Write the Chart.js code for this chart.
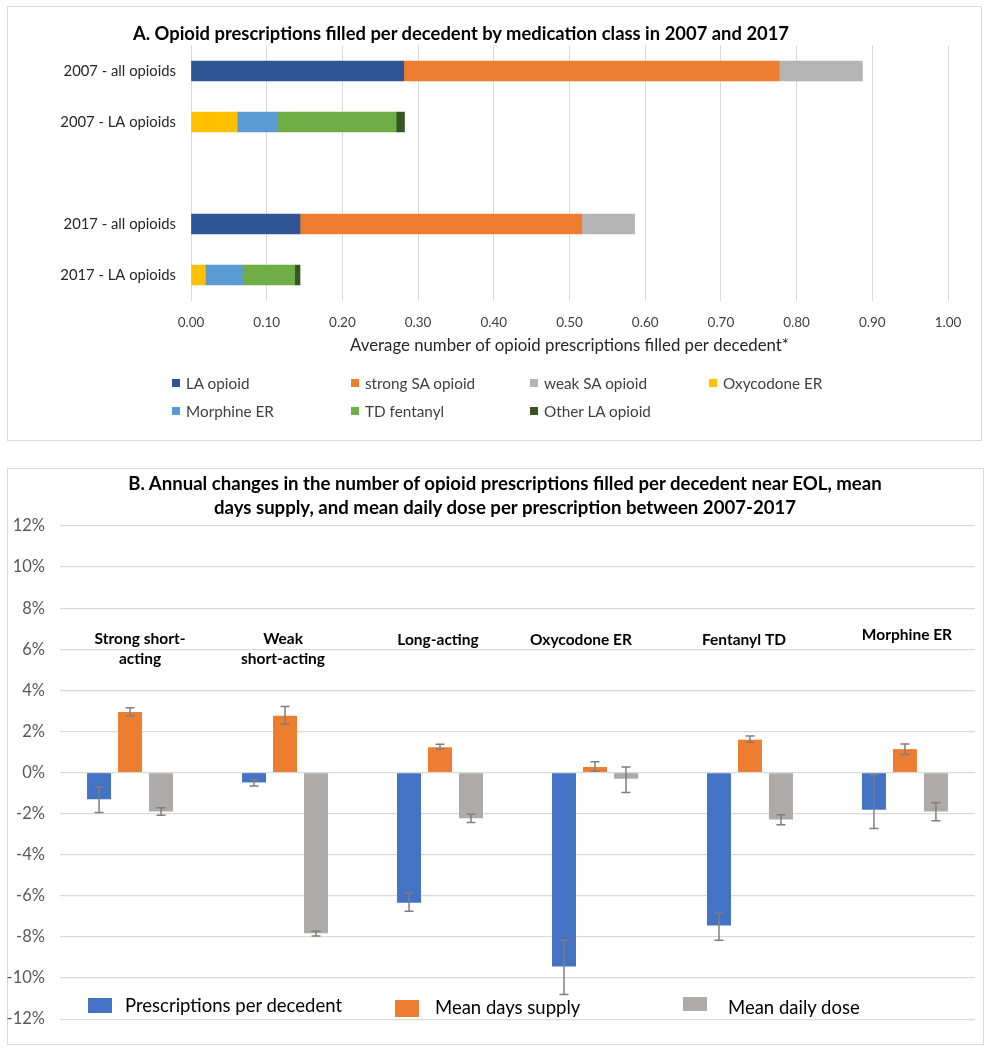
<!DOCTYPE html>
<html><head><meta charset="utf-8">
<script src="https://cdn.jsdelivr.net/npm/chart.js@4.4.1/dist/chart.umd.min.js"></script>
<style>
body{margin:0;background:#fff;width:990px;height:1050px;position:relative;overflow:hidden;font-family:Lato,'Open Sans',sans-serif;}
.frame{position:absolute;border:1px solid #d9d9d9;box-sizing:border-box;}
.wrap{position:absolute;}
.t{position:absolute;white-space:nowrap;color:#000;font-weight:bold;text-align:center;}
.lg{position:absolute;white-space:nowrap;color:#404040;}
.sw{position:absolute;}
</style></head><body>
<div class="frame" style="left:7px;top:6px;width:975px;height:435px;"></div>
<div class="frame" style="left:7px;top:468px;width:977px;height:577px;"></div>
<div class="wrap" style="left:7px;top:6px;width:975px;height:434px;"><canvas id="cA" width="975" height="434"></canvas></div>
<div class="wrap" style="left:7px;top:468px;width:977px;height:576px;"><canvas id="cB" width="977" height="576"></canvas></div>
<div class="t" style="left:0;width:922px;top:21px;font-size:18.4px;line-height:24px;">A. Opioid prescriptions filled per decedent by medication class in 2007 and 2017</div>
<div class="t" style="left:0;width:1010px;top:471px;font-size:18.6px;line-height:24px;">B. Annual changes in the number of opioid prescriptions filled per decedent near EOL, mean<br>days supply, and mean daily dose per prescription between 2007-2017</div>
<div id="legA"></div>
<div id="legB"></div>
<script>
// ---------- Panel A data ----------
const catsA = ['2007 - all opioids', '2007 - LA opioids', '', '2017 - all opioids', '2017 - LA opioids'];
const laOpioid = [0.281, null, null, 0.144, null];
const strongSA = [0.496, null, null, 0.372, null];
const weakSA   = [0.110, null, null, 0.070, null];
const oxyER    = [null, 0.061, null, null, 0.019];
const morphER  = [null, 0.053, null, null, 0.049];
const tdFent   = [null, 0.157, null, null, 0.069];
const otherLA  = [null, 0.011, null, null, 0.007];
const seriesNamesA = ['LA opioid', 'strong SA opioid', 'weak SA opioid', 'Oxycodone ER', 'Morphine ER', 'TD fentanyl', 'Other LA opioid'];
const xTicksA = [0, 0.1, 0.2, 0.3, 0.4, 0.5, 0.6, 0.7, 0.8, 0.9, 1.0];

// ---------- Panel B data ----------
const groupsB = [['Strong short-', 'acting'], ['Weak', 'short-acting'], ['Long-acting'], ['Oxycodone ER'], ['Fentanyl TD'], ['Morphine ER']];
const rxPerDecedent = [-1.30, -0.48, -6.34, -9.44, -7.44, -1.81];
const rxLow  = [-1.94, -0.66, -6.75, -10.80, -8.16, -2.72];
const rxHigh = [-0.69, -0.34, -5.86, -8.16, -6.85, -0.11];
const daysSupply = [2.95, 2.77, 1.23, 0.27, 1.60, 1.14];
const daysLow  = [2.77, 2.35, 1.14, 0.06, 1.47, 0.88];
const daysHigh = [3.15, 3.22, 1.38, 0.53, 1.78, 1.39];
const dailyDose = [-1.89, -7.82, -2.22, -0.30, -2.29, -1.89];
const doseLow  = [-2.08, -7.95, -2.43, -0.97, -2.54, -2.34];
const doseHigh = [-1.71, -7.73, -2.03, 0.27, -2.05, -1.47];
const seriesNamesB = ['Prescriptions per decedent', 'Mean days supply', 'Mean daily dose'];
const yTicksB = [-12, -10, -8, -6, -4, -2, 0, 2, 4, 6, 8, 10, 12];

const FONT = 'Lato';
Chart.defaults.font.family = FONT;
Chart.defaults.animation = false;

// ---------- Chart A ----------
const colorsA = ['#2F5597', '#ED7D31', '#B4B4B4', '#FFC000', '#5B9BD5', '#70AD47', '#375623'];
const seriesA = [laOpioid, strongSA, weakSA, oxyER, morphER, tdFent, otherLA];
new Chart(document.getElementById('cA'), {
  type: 'bar',
  data: {
    labels: catsA,
    datasets: seriesA.map((d, i) => ({label: seriesNamesA[i], data: d, backgroundColor: colorsA[i], barThickness: 20}))
  },
  options: {
    responsive: false, indexAxis: 'y',
    layout: {padding: {left: 0, top: 39.5, right: 34, bottom: 84.5}},
    plugins: {legend: {display: false}, tooltip: {enabled: false}},
    scales: {
      x: {stacked: true, min: 0, max: 1,
          afterBuildTicks: s => { s.ticks = xTicksA.map(v => ({value: v})); },
          ticks: {callback: v => Number(v).toFixed(2), color: '#404040', font: {size: 13.5}, padding: 14},
          grid: {color: '#d9d9d9', drawTicks: false}, border: {display: false},
          title: {display: true, text: 'Average number of opioid prescriptions filled per decedent*', color: '#262626', font: {size: 16.8}, padding: {top: 2, bottom: 0}},
          afterFit: s => { s.height = 55; }},
      y: {stacked: true, grid: {display: false, drawTicks: false}, border: {display: false},
          ticks: {color: '#262626', font: {size: 14.8}, padding: 15},
          afterFit: s => { s.width = 184; }}
    }
  }
});

// legend A (HTML)
(function(){
  const cols = [172, 351, 530, 709], rows = [383, 411];
  const el = document.getElementById('legA');
  seriesNamesA.forEach((n, i) => {
    const x = cols[i % 4], y = rows[Math.floor(i / 4)];
    el.insertAdjacentHTML('beforeend',
      `<div class="sw" style="left:${x}px;top:${y-4}px;width:8px;height:8px;background:${colorsA[i]}"></div>` +
      `<div class="lg" style="left:${x+14}px;top:${y-10}px;font-size:15.3px;line-height:20px;">${n}</div>`);
  });
})();

// ---------- Chart B ----------
const colorsB = ['#4472C4', '#ED7D31', '#AEAAAA'];
const valsB = [rxPerDecedent, daysSupply, dailyDose];
const lowB = [rxLow, daysLow, doseLow];
const highB = [rxHigh, daysHigh, doseHigh];

const errorBars = {
  id: 'errorBars',
  afterDatasetsDraw(chart) {
    const ctx = chart.ctx, ys = chart.scales.y;
    ctx.save();
    ctx.strokeStyle = '#7F7F7F'; ctx.lineWidth = 1.5;
    chart.data.datasets.forEach((ds, di) => {
      const meta = chart.getDatasetMeta(di);
      meta.data.forEach((bar, i) => {
        const x = bar.x, y1 = ys.getPixelForValue(ds.errLow[i]), y2 = ys.getPixelForValue(ds.errHigh[i]);
        ctx.beginPath();
        ctx.moveTo(x, y1); ctx.lineTo(x, y2);
        ctx.moveTo(x - 4.5, y1); ctx.lineTo(x + 4.5, y1);
        ctx.moveTo(x - 4.5, y2); ctx.lineTo(x + 4.5, y2);
        ctx.stroke();
      });
    });
    ctx.restore();
  }
};
const groupLabels = {
  id: 'groupLabels',
  afterDraw(chart, args, opts) {
    const ctx = chart.ctx, xs = chart.scales.x, ys = chart.scales.y;
    ctx.save();
    ctx.font = 'bold 15.5px ' + FONT; ctx.fillStyle = '#000';
    ctx.textAlign = 'center'; ctx.textBaseline = 'middle';
    groupsB.forEach((lines, i) => {
      const x = xs.getPixelForValue(i) + opts.dx[i];
      const y0 = ys.getPixelForValue(opts.at) + opts.dy[i];
      lines.forEach((t, k) => ctx.fillText(t, x, y0 + k * 20));
    });
    ctx.restore();
  }
};

const idxB = groupsB.map((g, i) => i);
new Chart(document.getElementById('cB'), {
  type: 'bar',
  data: {
    datasets: valsB.map((v, k) => ({
      label: seriesNamesB[k],
      data: v.map((y, i) => ({x: idxB[i], y: y})),
      errLow: lowB[k], errHigh: highB[k],
      backgroundColor: colorsB[k],
      categoryPercentage: 0.6, barPercentage: 0.774
    }))
  },
  options: {
    responsive: false,
    layout: {padding: {left: 0, top: 58, right: 9, bottom: 16}},
    plugins: {legend: {display: false}, tooltip: {enabled: false},
      groupLabels: {at: 6.5, dx: [10, -2, -2, -14, -6, 2], dy: [0, 0, 1, 1, 1, -4]}},
    scales: {
      x: {type: 'linear', min: -0.452, max: 5.452, offset: false, display: false,
          afterBuildTicks: s => { s.ticks = idxB.map(v => ({value: v})); }},
      y: {min: -12, max: 12,
          afterBuildTicks: s => { s.ticks = yTicksB.map(v => ({value: v})); },
          ticks: {callback: v => v + '%', color: '#595959', font: {size: 16.5}, padding: 15},
          grid: {color: '#d9d9d9', drawTicks: false, lineWidth: 1.2}, border: {display: false},
          afterFit: s => { s.width = 53; }}
    }
  },
  plugins: [errorBars, groupLabels]
});

// legend B (HTML)
(function(){
  const items = [
    {bx: 88, by: 998, bh: 15, tx: 125},
    {bx: 395, by: 1000, bh: 17, tx: 435},
    {bx: 683, by: 997, bh: 14, tx: 728}
  ];
  const el = document.getElementById('legB');
  seriesNamesB.forEach((n, i) => {
    const it = items[i];
    el.insertAdjacentHTML('beforeend',
      `<div class="sw" style="left:${it.bx}px;top:${it.by}px;width:24px;height:${it.bh}px;background:${colorsB[i]}"></div>` +
      `<div class="lg" style="left:${it.tx}px;top:${994 + (i ? 2 : 0)}px;font-size:18.5px;line-height:22px;color:#000;">${n}</div>`);
  });
})();
</script>
</body></html>
